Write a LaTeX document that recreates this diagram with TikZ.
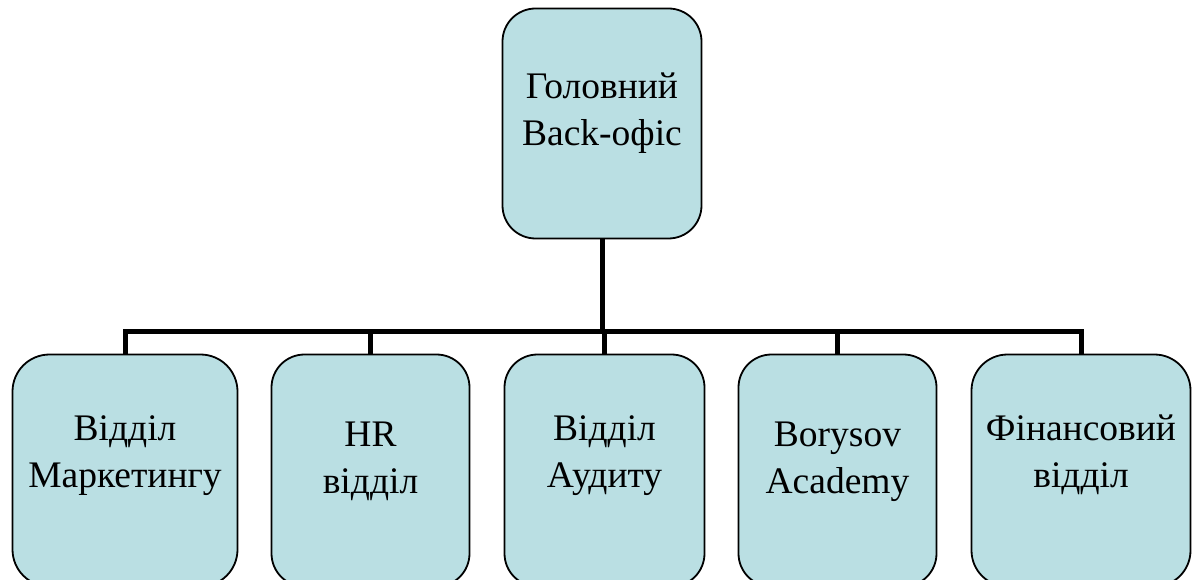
\documentclass[tikz,border=0pt]{standalone}
\usepackage{fontspec}
\setmainfont{Liberation Serif}
\definecolor{boxfill}{RGB}{186,223,227}
\begin{document}
\begin{tikzpicture}[x=1pt,y=-1pt,
  box/.style={draw=black, line width=1.8pt, fill=boxfill, inner sep=0pt, rectangle},
  lbl/.style={align=center, inner sep=0pt, font=\fontsize{37.5}{47}\selectfont},
  conn/.style={draw=black, line width=5pt}]
\path[use as bounding box, clip] (0,0) rectangle (1197,580);
\fill[white] (0,0) rectangle (1197,580);
% boxes
\node[box, minimum width=199pt, minimum height=230pt, rounded corners=33pt] (top) at (602,123.5) {};
\node[box, minimum width=225pt, minimum height=232pt, rounded corners=37pt] (b1) at (125,470.5) {};
\node[box, minimum width=198pt, minimum height=232pt, rounded corners=33pt] (b2) at (370.5,470.5) {};
\node[box, minimum width=200pt, minimum height=232pt, rounded corners=33pt] (b3) at (604.5,470.5) {};
\node[box, minimum width=198pt, minimum height=232pt, rounded corners=33pt] (b4) at (837.5,470.5) {};
\node[box, minimum width=219pt, minimum height=232pt, rounded corners=36pt] (b5) at (1081,470.5) {};
% labels
\node[lbl] (ttop) at (602,112.6) {\strut Головний\\Back-офіс\strut};
\node[lbl] (t1) at (125,454.1) {\strut Відділ\\Маркетингу\strut};
\node[lbl] (t2) at (370.5,460.1) {\strut HR\\відділ\strut};
\node[lbl] (t3) at (604.5,454.1) {\strut Відділ\\Аудиту\strut};
\node[lbl] (t4) at (837.5,460.1) {\strut Borysov\\Academy\strut};
\node[lbl] (t5) at (1081,454.1) {\strut Фінансовий\\відділ\strut};
% connectors
\coordinate (bus) at (602,331);
\draw[conn] (top.south) -- (bus);
\draw[conn, line join=miter] (b1.north) -- (b1.north |- bus) -- (b5.north |- bus) -- (b5.north);
\draw[conn] (b2.north |- bus) -- (b2.north);
\draw[conn] (b3.north |- bus) -- (b3.north);
\draw[conn] (b4.north |- bus) -- (b4.north);
\end{tikzpicture}
\end{document}
